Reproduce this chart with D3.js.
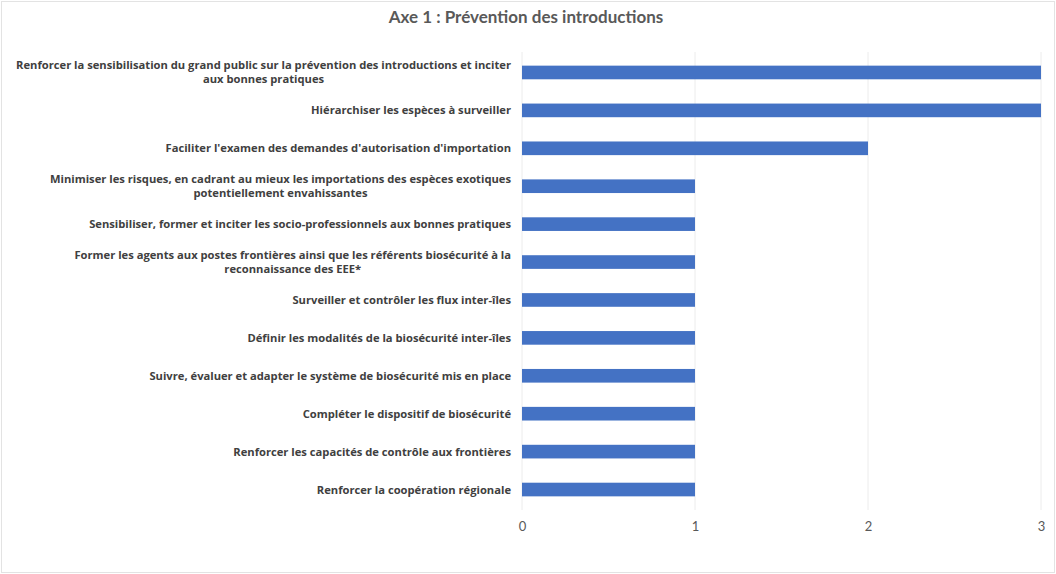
<!DOCTYPE html>
<html>
<head>
<meta charset="utf-8">
<script src="https://cdn.jsdelivr.net/npm/d3@7"></script>
<style>
  body { margin: 0; background: #fff; }
  svg { display: block; font-family: "Open Sans", sans-serif; }
</style>
</head>
<body>
<div id="chart"></div>
<script>
"use strict"

// data
const title = "Axe 1 : Prévention des introductions";
const categories = [
    "Renforcer la sensibilisation du grand public sur la prévention des introductions et inciter aux bonnes pratiques",
    "Hiérarchiser les espèces à surveiller",
    "Faciliter l'examen des demandes d'autorisation d'importation",
    "Minimiser les risques, en cadrant au mieux les importations des espèces exotiques potentiellement envahissantes",
    "Sensibiliser, former et inciter les socio-professionnels aux bonnes pratiques",
    "Former les agents aux postes frontières ainsi que les référents biosécurité à la reconnaissance des EEE*",
    "Surveiller et contrôler les flux inter-îles",
    "Définir les modalités de la biosécurité inter-îles",
    "Suivre, évaluer et adapter le système de biosécurité mis en place",
    "Compléter le dispositif de biosécurité",
    "Renforcer les capacités de contrôle aux frontières",
    "Renforcer la coopération régionale"
];
const values = [3, 3, 2, 1, 1, 1, 1, 1, 1, 1, 1, 1];
const xTicks = [0, 1, 2, 3];

const width = 1056, height = 574;
const margin = {top: 52, right: 15, bottom: 64, left: 522};
const labelRight = 511;
const labelMax = 505;

const svg = d3.select("#chart").append("svg")
    .attr("width", width)
    .attr("height", height);

// chart frame
svg.append("rect")
    .attr("x", 1.5).attr("y", 1.5)
    .attr("width", width - 3).attr("height", height - 3)
    .attr("fill", "#fff")
    .attr("stroke", "#e3e3e3");

svg.append("text")
    .attr("x", 526).attr("y", 23)
    .attr("text-anchor", "middle")
    .attr("font-family", "Lato, sans-serif")
    .attr("font-size", 17)
    .attr("font-weight", "bold")
    .attr("fill", "#595959")
    .text(title);

const x = d3.scaleLinear()
    .domain([0, d3.max(xTicks)])
    .range([margin.left, width - margin.right]);

const y = d3.scaleBand()
    .domain(categories)
    .range([margin.top, height - margin.bottom])
    .paddingInner(0.64)
    .paddingOuter(0.36);

// gridlines
svg.append("g")
    .selectAll("line")
    .data(xTicks)
    .join("line")
    .attr("x1", d => x(d)).attr("x2", d => x(d))
    .attr("y1", margin.top).attr("y2", height - margin.bottom)
    .attr("stroke", "#ececec")
    .attr("stroke-width", 1);

// x axis labels
const xAxis = d3.axisBottom(x).tickValues(xTicks).tickFormat(d3.format("d")).tickSize(0).tickPadding(12);
const xg = svg.append("g")
    .attr("transform", `translate(0,${height - margin.bottom})`)
    .call(xAxis);
xg.select(".domain").remove();
xg.selectAll("text")
    .attr("font-family", "Lato, sans-serif")
    .attr("font-size", 13)
    .attr("fill", "#595959");

// bars
svg.append("g")
    .selectAll("rect")
    .data(values)
    .join("rect")
    .attr("x", x(0))
    .attr("y", (d, i) => y(categories[i]))
    .attr("width", d => x(d) - x(0))
    .attr("height", y.bandwidth())
    .attr("fill", "#4472c4");

// category labels, wrapped and centred as a block that is right-aligned
const labels = svg.append("g")
    .selectAll("text")
    .data(categories)
    .join("text")
    .attr("text-anchor", "middle")
    .attr("font-size", 11.2)
    .attr("font-weight", "bold")
    .attr("fill", "#404040");

labels.each(function (d) {
    const t = d3.select(this);
    const words = d.split(" ");
    const lines = [];
    let line = [];
    const probe = t.append("tspan");
    const measure = s => { probe.text(s); return probe.node().getComputedTextLength(); };
    words.forEach(w => {
        line.push(w);
        if (measure(line.join(" ")) > labelMax && line.length > 1) {
            line.pop();
            lines.push(line.join(" "));
            line = [w];
        }
    });
    lines.push(line.join(" "));
    const widest = d3.max(lines, measure);
    probe.remove();
    const cx = labelRight - widest / 2;
    const cy = y(d) + y.bandwidth() / 2;
    const lh = 14;
    const y0 = cy - (lines.length - 1) * lh / 2 + 4;
    lines.forEach((l, k) => {
        t.append("tspan")
            .attr("x", cx)
            .attr("y", y0 + k * lh)
            .text(l);
    });
});
</script>
</body>
</html>
